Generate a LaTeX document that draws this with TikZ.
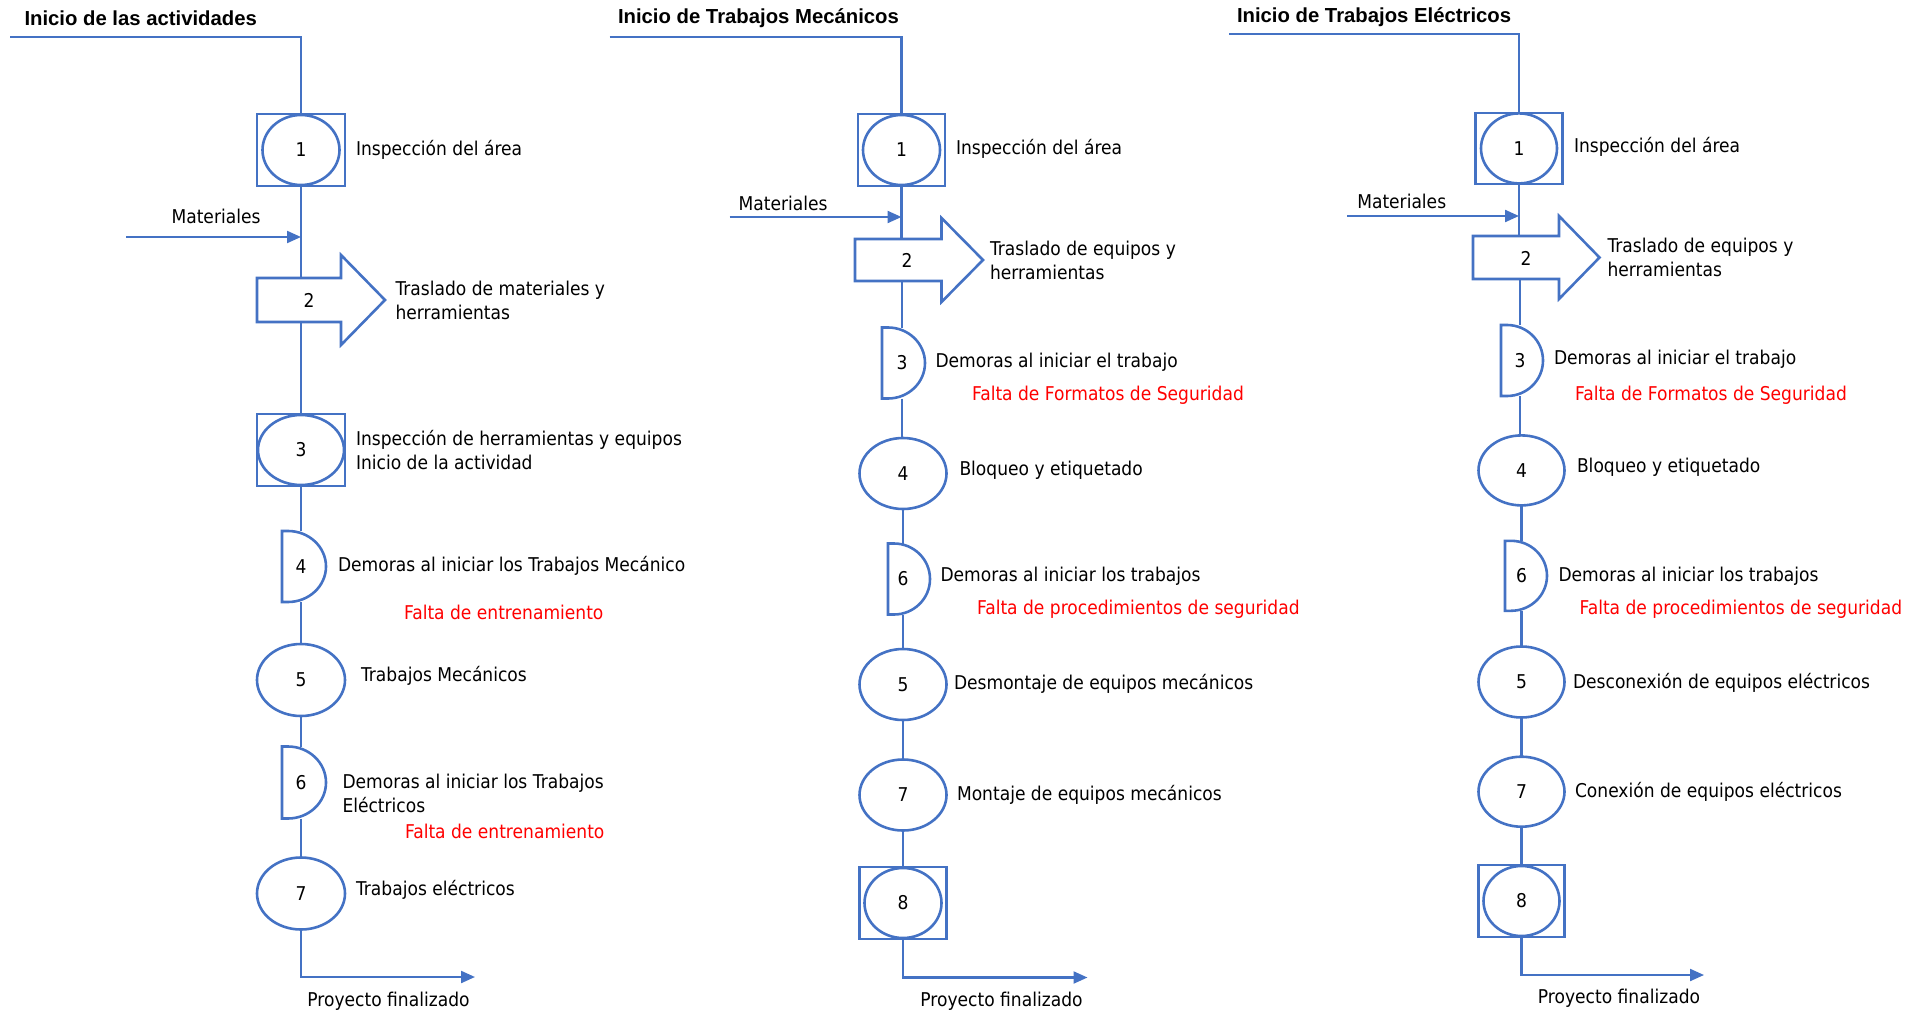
\documentclass[tikz,border=0pt]{standalone}
\usepackage{fontspec}
\setmainfont{DejaVu Sans}[FakeStretch=0.9]
\newfontfamily\headfont{Liberation Sans}
\usetikzlibrary{shapes.geometric,arrows.meta}
\definecolor{flowblue}{HTML}{4472C4}
\definecolor{causered}{HTML}{FF0000}

% D-shaped delay outline: #1 left x, #2 arc centre x, #3 right x, #4 centre y, #5 half height
\newcommand\delayoutline[5]{%
  \draw[shp] (#1,{#4-#5}) -- (#2,{#4-#5})
    .. controls ({#2+0.5523*(#3-#2)},{#4-#5}) and (#3,{#4-0.5523*#5}) .. (#3,#4)
    .. controls (#3,{#4+0.5523*#5}) and ({#2+0.5523*(#3-#2)},{#4+#5}) .. (#2,{#4+#5})
    -- (#1,{#4+#5}) -- cycle;}

\begin{document}
\begin{tikzpicture}[x=1pt,y=-1pt,
  every node/.style={inner sep=0pt,outer sep=0pt},
  txt/.style={anchor=west,align=left,font=\fontsize{19}{24}\selectfont},
  cause/.style={txt,text=causered},
  head/.style={anchor=west,font=\headfont\bfseries\fontsize{20.3}{24}\selectfont},
  num/.style={font=\fontsize{19}{24}\selectfont},
  shp/.style={draw=flowblue,line width=2.6pt},
  ln/.style={draw=flowblue,line width=2.2pt},
  arr/.style={ln,-{Triangle[length=14pt,width=12pt]}},
  op/.style={shp,ellipse,num,minimum width=88pt,minimum height=72pt},
  insp/.style={shp,rectangle,minimum width=88pt,minimum height=72pt},
  inop/.style={op,minimum width=77pt,minimum height=70pt},
  hold/.style={num,minimum width=2pt,minimum height=#1},
]
\useasboundingbox (0,0) rectangle (1923,1014);

% ---------------- Column 1: Inicio de las actividades ----------------
\node[head] (t1) at (24.5,18) {Inicio de las actividades};
\coordinate (st1) at (10,37);
\node[insp] (a1box) at (301,150) {};
\node[inop] (a1) at (301,150) {1};
\node[txt] (a1t) at (356,150) {Inspección del área};
\node[num] (a1m) at (216,216) {Materiales};
\coordinate (a1in) at (126,237);
\node[minimum width=84pt,minimum height=44pt] (a2) at (299,300) {};
\draw[shp] (257,278) -- (341,278) -- (341,255) -- (385,300) -- (341,345) -- (341,322) -- (257,322) -- cycle;
\node[num] (a2n) at (309,300) {2};
\node[txt] (a2t) at (395.5,300) {Traslado de materiales y\\herramientas};
\node[insp] (a3box) at (301,450) {};
\node[inop,minimum width=86pt,minimum height=70pt] (a3) at (301,450) {3};
\node[txt] (a3t) at (356,450) {Inspección de herramientas y equipos\\Inicio de la actividad};
\delayoutline{282}{288}{326}{566.5}{35.5}
\node[hold=71pt] (a4) at (301,566.5) {4};
\node[txt] (a4t) at (338,566) {Demoras al iniciar los Trabajos Mecánico};
\node[cause] (a4c) at (404,612.5) {Falta de entrenamiento};
\node[op] (a5) at (301,680) {5};
\node[txt] (a5t) at (361,676) {Trabajos Mecánicos};
\delayoutline{282}{288}{326}{782.5}{36}
\node[hold=72pt] (a6) at (301,782.5) {6};
\node[txt] (a6t) at (342.5,793) {Demoras al iniciar los Trabajos\\Eléctricos};
\node[cause] (a6c) at (405,831) {Falta de entrenamiento};
\node[op] (a7) at (301,893.5) {7};
\node[txt] (a7t) at (356,889.5) {Trabajos eléctricos};
\coordinate (aend) at (475,977);
\node[num] (afin) at (388.5,1001) {Proyecto finalizado};

\draw[ln] (st1) -| (a1box.north);
\draw[arr] (a1in) -- (a1in -| a1box.south);
\draw[ln] (a1box.south) -- (a1box.south |- a2.north);
\draw[ln] (a3box.north |- a2.south) -- (a3box.north);
\draw[ln] (a3box.south) -- (a4.north);
\draw[ln] (a4.south) -- (a5.north);
\draw[ln] (a5.south) -- (a6.north);
\draw[ln] (a6.south) -- (a7.north);
\draw[arr] (a7.south) |- (aend);

% ---------------- Column 2: Inicio de Trabajos Mecánicos ----------------
\node[head] (t2) at (618,18) {Inicio de Trabajos Mecánicos};
\coordinate (st2) at (609.5,37);
\node[insp,minimum width=87pt] (b1box) at (901.5,150) {};
\node[inop] (b1) at (901.5,150) {1};
\node[txt] (b1t) at (956,148.5) {Inspección del área};
\node[num] (b1m) at (783,203.5) {Materiales};
\coordinate (b1in) at (729.5,217);
\node[minimum width=86.5pt,minimum height=42pt] (b2) at (898.25,260) {};
\draw[shp] (855,239) -- (941.5,239) -- (941.5,218) -- (983,260) -- (941.5,302) -- (941.5,281) -- (855,281) -- cycle;
\node[num] (b2n) at (907,260) {2};
\node[txt] (b2t) at (990,260) {Traslado de equipos y\\herramientas};
\delayoutline{882}{888}{925}{363}{35.5}
\node[hold=71pt] (b3) at (902,363) {3};
\node[txt] (b3t) at (935.5,362) {Demoras al iniciar el trabajo};
\node[cause] (b3c) at (972,395) {Falta de Formatos de Seguridad};
\node[op,minimum width=87pt,minimum height=71pt] (b4) at (903,473.5) {4};
\node[txt] (b4t) at (959.5,470) {Bloqueo y etiquetado};
\delayoutline{888}{894}{930}{579}{35.5}
\node[hold=71pt] (b6) at (903,579) {6};
\node[txt] (b6t) at (940.5,576) {Demoras al iniciar los trabajos};
\node[cause] (b6c) at (977,609.5) {Falta de procedimientos de seguridad};
\node[op,minimum width=87pt,minimum height=71pt] (b5) at (903,684.5) {5};
\node[txt] (b5t) at (954,684) {Desmontaje de equipos mecánicos};
\node[op,minimum width=87pt,minimum height=71pt] (b7) at (903,795) {7};
\node[txt] (b7t) at (957,795) {Montaje de equipos mecánicos};
\node[insp,minimum width=87pt] (b8box) at (903,903) {};
\node[inop] (b8) at (903,903) {8};
\coordinate (bend) at (1087.5,977.5);
\node[num] (bfin) at (1001.5,1001) {Proyecto finalizado};

\draw[ln] (st2) -| (b1box.north);
\draw[arr] (b1in) -- (b1in -| b1box.south);
\draw[ln] (b1box.south) -- (b1box.south |- b2.north);
\draw[ln] (b3.north |- b2.south) -- (b3.north);
\draw[ln] (b3.south) -- (b3.south |- b4.north);
\draw[ln] (b4.south) -- (b6.north);
\draw[ln] (b6.south) -- (b5.north);
\draw[ln] (b5.south) -- (b7.north);
\draw[ln] (b7.south) -- (b8box.north);
\draw[arr] (b8box.south) |- (bend);

% ---------------- Column 3: Inicio de Trabajos Eléctricos ----------------
\node[head] (t3) at (1237,17.5) {Inicio de Trabajos Eléctricos};
\coordinate (st3) at (1229,34.3);
\node[insp,minimum width=87pt,minimum height=71pt] (c1box) at (1519,148.4) {};
\node[inop,minimum width=76pt] (c1) at (1519,148.4) {1};
\node[txt] (c1t) at (1574,147) {Inspección del área};
\node[num] (c1m) at (1401.7,201) {Materiales};
\coordinate (c1in) at (1347,216);
\node[minimum width=86pt,minimum height=43pt] (c2) at (1516,257.5) {};
\draw[shp] (1473,236) -- (1559,236) -- (1559,216) -- (1599.5,257.5) -- (1559,299) -- (1559,279) -- (1473,279) -- cycle;
\node[num] (c2n) at (1526,258) {2};
\node[txt] (c2t) at (1607.5,257.5) {Traslado de equipos y\\herramientas};
\delayoutline{1501}{1507}{1543}{360.5}{35.5}
\node[hold=71pt] (c3) at (1520,360.5) {3};
\node[txt] (c3t) at (1554,359) {Demoras al iniciar el trabajo};
\node[cause] (c3c) at (1575,395) {Falta de Formatos de Seguridad};
\node[op,minimum width=86pt,minimum height=70pt] (c4) at (1521.5,470.4) {4};
\node[txt] (c4t) at (1577,467) {Bloqueo y etiquetado};
\delayoutline{1505}{1511}{1547}{575.8}{35}
\node[hold=70pt] (c6) at (1521.5,575.8) {6};
\node[txt] (c6t) at (1558.5,576) {Demoras al iniciar los trabajos};
\node[cause] (c6c) at (1579.5,609.5) {Falta de procedimientos de seguridad};
\node[op,minimum width=86pt,minimum height=71pt] (c5) at (1521.5,682) {5};
\node[txt] (c5t) at (1573,683) {Desconexión de equipos eléctricos};
\node[op,minimum width=86pt,minimum height=70pt] (c7) at (1521.5,791.7) {7};
\node[txt] (c7t) at (1575,792) {Conexión de equipos eléctricos};
\node[insp,minimum width=86pt] (c8box) at (1521.5,901) {};
\node[inop,minimum width=76pt] (c8) at (1521.5,901) {8};
\coordinate (cend) at (1704,975);
\node[num] (cfin) at (1619,998) {Proyecto finalizado};

\draw[ln] (st3) -| (c1box.north);
\draw[arr] (c1in) -- (c1in -| c1box.south);
\draw[ln] (c1box.south) -- (c1box.south |- c2.north);
\draw[ln] (c3.north |- c2.south) -- (c3.north);
\draw[ln] (c3.south) -- (c3.south |- c4.north);
\draw[ln] (c4.south) -- (c6.north);
\draw[ln] (c6.south) -- (c5.north);
\draw[ln] (c5.south) -- (c7.north);
\draw[ln] (c7.south) -- (c8box.north);
\draw[arr] (c8box.south) |- (cend);
\end{tikzpicture}
\end{document}
